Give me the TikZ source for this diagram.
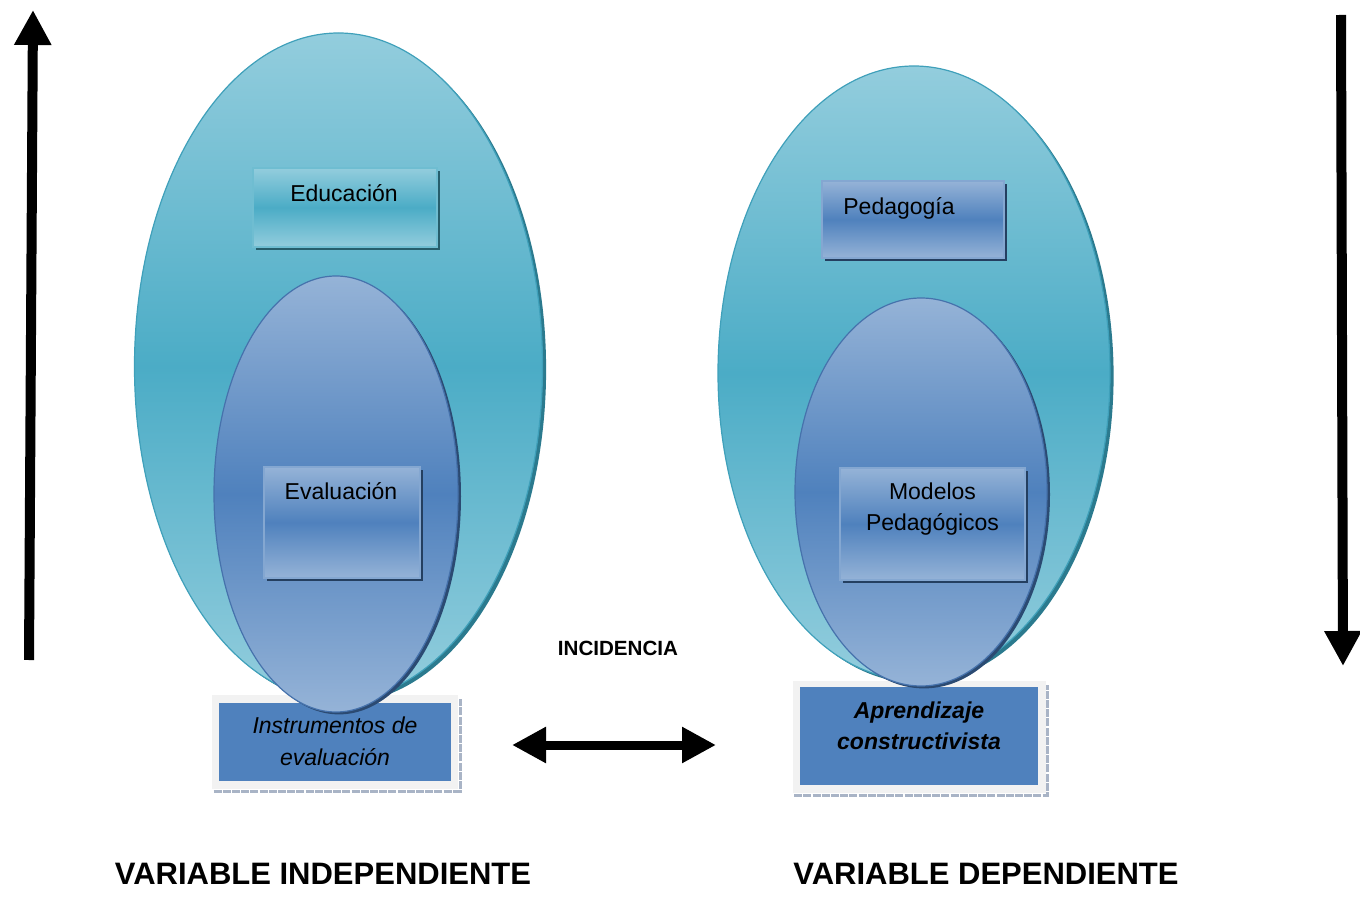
\documentclass[tikz,border=0pt]{standalone}
\usepackage{fontspec}
\setmainfont{Liberation Sans}
\usetikzlibrary{positioning,shapes.geometric,arrows.meta,shadows}

\definecolor{tealL}{HTML}{93CDDD}
\definecolor{tealM}{HTML}{4BACC6}
\definecolor{tealE}{HTML}{3FA0BA}
\definecolor{tealS}{HTML}{2B7A8E}
\definecolor{tealBS}{HTML}{265E6C}
\definecolor{blueL}{HTML}{95B3D7}
\definecolor{blueM}{HTML}{4F81BD}
\definecolor{blueE}{HTML}{4672AC}
\definecolor{blueS}{HTML}{2B4A72}
\definecolor{blueBS}{HTML}{243F60}
\definecolor{frameG}{HTML}{F2F2F2}
\definecolor{gridC}{HTML}{A9B4C6}

\begin{document}
\begin{tikzpicture}[x=0.5pt, y=-0.5pt,
  bigoval/.style = {ellipse, inner sep=0pt, draw=tealE, line width=0.6pt,
    top color=tealL, bottom color=tealL, middle color=tealM,
    drop shadow={fill=tealS, opacity=1, shadow xshift=1.8pt, shadow yshift=-1.5pt}},
  smalloval/.style = {ellipse, inner sep=0pt, draw=blueE, line width=0.6pt,
    top color=blueL, bottom color=blueL, middle color=blueM,
    drop shadow={fill=blueS, opacity=1, shadow xshift=1.5pt, shadow yshift=-1.2pt}},
  tealbox/.style = {rectangle, inner sep=0pt, draw=tealM!80!white, line width=0.8pt,
    top color=tealL, bottom color=tealL, middle color=tealM,
    drop shadow={fill=tealBS, opacity=1, shadow xshift=1.5pt, shadow yshift=-1.5pt}},
  bluebox/.style = {rectangle, inner sep=0pt, draw=blueM!70!white, line width=0.8pt,
    top color=blueL, bottom color=blueL, middle color=blueM,
    drop shadow={fill=blueBS, opacity=1, shadow xshift=1.5pt, shadow yshift=-1.5pt}},
  framebox/.style = {rectangle, inner sep=0pt, fill=frameG},
  basebox/.style = {rectangle, inner sep=0pt, fill=blueM},
  gridline/.style = {draw=gridC, line width=1.5pt, dash pattern=on 4pt off 0.6pt},
  boxtext/.style = {inner sep=0pt, align=center, font=\fontsize{11.5}{15.5}\selectfont},
  bigarrow/.style = {line width=5pt, -{Triangle[width=17.5pt,length=17.5pt]}},
  botharrow/.style = {line width=4.5pt, {Triangle[width=17pt,length=17pt]}-{Triangle[width=17pt,length=17pt]}},
  vartext/.style = {inner sep=0pt, font=\fontsize{15.5}{18}\selectfont\bfseries}]

  \useasboundingbox (0,0) rectangle (1360,898);

  % base boxes
  \node[framebox, minimum width=123pt, minimum height=47pt] (instrframe) at (335,742) {};
  \draw[gridline] ([xshift=1pt,yshift=-0.8pt]instrframe.south west) -- ([xshift=0.8pt,yshift=-0.8pt]instrframe.south east) -- ([xshift=0.8pt,yshift=-2pt]instrframe.north east);
  \node[basebox, minimum width=116pt, minimum height=39pt] (instr) at (335,742) {};
  \node[framebox, minimum width=126.5pt, minimum height=56pt] (aprframe) at (919,737) {};
  \draw[gridline] ([xshift=1pt,yshift=-0.8pt]aprframe.south west) -- ([xshift=0.8pt,yshift=-0.8pt]aprframe.south east) -- ([xshift=0.8pt,yshift=-2pt]aprframe.north east);
  \node[basebox, minimum width=119pt, minimum height=49pt] (apr) at (919,736) {};

  % ovals
  \node[bigoval, minimum width=204pt, minimum height=333.5pt] (eduoval) at (338.5,366.5) {};
  \node[bigoval, minimum width=196pt, minimum height=307pt] (pedoval) at (914,373) {};
  \node[smalloval, minimum width=122pt, minimum height=218pt] (evaloval) at (336,494) {};
  \node[smalloval, minimum width=126pt, minimum height=194pt] (modoval) at (921,492) {};

  % small boxes
  \node[tealbox, minimum width=92pt, minimum height=39.5pt] (edu) at (345,207.5) {};
  \node[bluebox, minimum width=78pt, minimum height=55.5pt] (eval) at (342,522.5) {};
  \node[bluebox, minimum width=91pt, minimum height=38.5pt] (ped) at (913,219.5) {};
  \node[bluebox, minimum width=92.5pt, minimum height=56pt] (mod) at (932.5,524) {};

  % texts
  \node[boxtext] (edut) at ([xshift=-0.5pt,yshift=-13pt]edu.north) {Educación};
  \node[boxtext] (evalt) at ([xshift=-0.5pt,yshift=-12.5pt]eval.north) {Evaluación};
  \node[boxtext] (pedt) at ([xshift=-7pt,yshift=-14pt]ped.north) {Pedagogía};
  \node[boxtext] (modt) at ([yshift=-20.75pt]mod.north) {Modelos\\Pedagógicos};
  \node[boxtext, font=\fontsize{11.5}{16}\selectfont\itshape] (instrt) at ([yshift=0.5pt]instr.center) {Instrumentos de\\evaluación};
  \node[boxtext, font=\fontsize{11.5}{15.5}\selectfont\bfseries\itshape] (aprt) at ([yshift=5pt]apr.center) {Aprendizaje\\constructivista};
  \node[inner sep=0pt, font=\fontsize{10.3}{12}\selectfont\bfseries] (inc) at (618,648) {INCIDENCIA};
  \node[vartext] (indep) at (323,874) {VARIABLE INDEPENDIENTE};
  \node[vartext] (dep) at (986,874) {VARIABLE DEPENDIENTE};

  % arrows
  \coordinate (upbot) at (29,660);
  \coordinate (uptop) at (33,10);
  \coordinate (downtop) at (1341,15);
  \coordinate (downbot) at (1343,666);
  \coordinate (incl) at (512,745);
  \coordinate (incr) at (716,745);
  \draw[bigarrow] (upbot) -- (uptop);
  \draw[bigarrow] (downtop) -- (downbot);
  \draw[botharrow] (incl) -- (incr);
\end{tikzpicture}
\end{document}
